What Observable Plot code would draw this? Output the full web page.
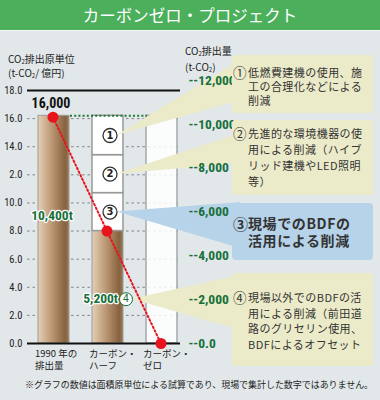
<!DOCTYPE html>
<html><head><meta charset="utf-8">
<script src="https://cdn.jsdelivr.net/npm/d3@7"></script>
<script src="https://cdn.jsdelivr.net/npm/@observablehq/plot@0.6"></script>
<style>
body{margin:0;background:#e2e8ea;font-family:"Noto Sans CJK JP",sans-serif;color:#333;}
#wrap{position:relative;width:380px;height:400px;overflow:hidden;background:#e2e8ea;}
#title{height:30px;border-bottom:1px solid #f2f6f6;background:#4caf5b;color:#fff;font-size:16.5px;text-align:center;line-height:31px;letter-spacing:0;}
.abs{position:absolute;white-space:nowrap;}
.axt{font-size:10px;line-height:10.5px;color:#222;}
.axt sub{font-size:6px;vertical-align:-1px;}
.box{position:absolute;left:232px;width:141px;box-sizing:border-box;border-radius:4px;padding-left:1px;white-space:nowrap;font-size:11px;letter-spacing:0.45px;color:#333;z-index:2;}
.beige{background:#ecebc9;}
.blue{background:#b7d3e9;}
.box .c{display:inline-block;width:15px;font-size:13.5px;letter-spacing:0;text-align:left;vertical-align:top;}
.box .ind{padding-left:15px;}
#note{left:25px;top:378px;font-size:9px;color:#222;letter-spacing:-0.05px;z-index:3;}
#chart{position:absolute;left:0;top:31px;}
</style></head>
<body>
<div id="wrap">
  <div id="title">カーボンゼロ・プロジェクト</div>
  <div id="chart"></div>
  <div class="abs axt" style="left:8px;top:54px;">CO<sub>2</sub>排出原単位<br>(t-CO<sub>2</sub>/ 億円)</div>
  <div class="abs axt" style="left:185px;top:45px;line-height:12.5px;">CO<sub>2</sub>排出量<br>(t-CO<sub>2</sub>)</div>
  <div class="box beige" style="top:55px;height:58px;padding-top:11px;line-height:13.8px;"><span class="c">①</span>低燃費建機の使用、施<br><span class="ind">工の合理化などによる</span><br><span class="ind">削減</span></div>
  <div class="box beige" style="top:120px;height:75px;padding-top:5px;line-height:16px;"><span class="c">②</span>先進的な環境機器の使<br><span class="ind">用による削減（ハイブ</span><br><span class="ind">リッド建機やLED照明</span><br><span class="ind">等）</span></div>
  <div class="box blue" style="top:203px;height:57px;padding-top:12px;line-height:17px;font-size:14px;font-weight:bold;letter-spacing:0.6px;"><span class="c" style="font-size:15px;">③</span>現場でのBDFの<br><span class="ind">活用による削減</span></div>
  <div class="box beige" style="top:273px;height:93px;padding-top:17px;line-height:15.7px;"><span class="c">④</span>現場以外でのBDFの活<br><span class="ind">用による削減（前田道</span><br><span class="ind">路のグリセリン使用、</span><br><span class="ind">BDFによるオフセット</span></div>
  <div id="note" class="abs">※グラフの数値は面積原単位による試算であり、現場で集計した数字ではありません。</div>
</div>
<script>
// ---- data ----
const categories = ["1990年の排出量", "カーボン・ハーフ", "カーボン・ゼロ"];
const categoryLines1 = ["1990 年の", "カーボン・", "カーボン・"];
const categoryLines2 = ["排出量", "ハーフ", "ゼロ"];
const brownValues = [16.2, 8.0];            // remaining intensity (1990, half)
const reductionSteps = ["3", "2", "1"];     // stacked above the half bar, bottom→top
const reductionValues = [2.7, 2.7, 2.8];
const zeroFrameValue = 16.2;
const trendValues = [16.1, 8.0, 0];
const leftTicks = [0, 2, 4, 6, 8, 10, 12, 14, 16, 18];
const leftTickLabels = ["0.0", "2.0", "4.0", "6.0", "8.0", "10.0", "2.0", "14.0", "16.0", "18.0"];
const rightTicks = [0, 2000, 4000, 6000, 8000, 10000, 12000];
const rightTickLabels = ["--0.0", "--2,000", "--4,000", "--6,000", "--8,000", "--10,000", "--12,000"];
const rightValueAt18 = 11544;
const emissionLabels = ["16,000", "10,400t", "5,200t"];
const emissionLabelY = [17.05, 9.1, 3.2];
const note4Y = 3.15;

// ---- derived tables ----
const brownBars = brownValues.map((v, i) => ({cat: categories[i], v}));
const tops = d3.cumsum([brownValues[1], ...reductionValues]);
const segments = reductionSteps.map((s, i) => ({cat: categories[1], step: s, y1: tops[i], y2: tops[i + 1]}));
const trend = trendValues.map((v, i) => ({cat: categories[i], v}));
const rightAxis = rightTicks.map((t, i) => ({y: t * 18 / rightValueAt18, label: rightTickLabels[i]}));
const catText = categories.map((c, i) => ({cat: c, l1: categoryLines1[i], l2: categoryLines2[i]}));
const NARROW = '"Liberation Sans Narrow","Roboto Condensed","DejaVu Sans Condensed",sans-serif';
const BEIGE = "#ecebc9", BLUE = "#b7d3e9";

function defsMark() {
  const defs = d3.create("svg:defs");
  const g = defs.append("linearGradient").attr("id", "brownGrad").attr("x1", "0").attr("x2", "1").attr("y1", "0").attr("y2", "0");
  [[0, "#e4d0b6"], [0.45, "#bb9673"], [0.88, "#86623f"], [1, "#9c7a58"]].forEach(([o, c]) =>
    g.append("stop").attr("offset", o).attr("stop-color", c));
  return defs.node();
}

function wedgeMark(index, scales) {
  const x = scales.x, y = scales.y, bw = x.bandwidth();
  const cx = x(categories[1]) + bw / 2;
  const tipsSeg = segments.map(s => [cx + 9, y((s.y1 + s.y2) / 2)]);
  const specs = [
    {tip: tipsSeg[2], base: [29, 69], color: BEIGE},
    {tip: tipsSeg[1], base: [102, 132], color: BEIGE},
    {tip: tipsSeg[0], base: [171, 217], color: BLUE},
    {tip: [cx + 24, y(note4Y)], base: [244, 299], color: BEIGE}
  ];
  const g = d3.create("svg:g");
  specs.forEach(s => {
    g.append("path")
      .attr("d", `M${s.tip[0]},${s.tip[1]}L240,${s.base[0]}L240,${s.base[1]}Z`)
      .attr("fill", s.color);
  });
  return g.node();
}

const plot = Plot.plot({
  width: 380,
  height: 369,
  marginTop: 59,
  marginBottom: 57,
  marginLeft: 27,
  marginRight: 200,
  style: {background: "transparent", fontFamily: '"Noto Sans CJK JP",sans-serif', color: "#222"},
  x: {domain: categories, paddingInner: 0.418, paddingOuter: 0.1, align: 0.82, axis: null},
  y: {domain: [0, 18], axis: null},
  marks: [
    defsMark,
    Plot.ruleY(leftTicks.filter(t => t > 0 && t < 18), {stroke: "#7d8486", strokeDasharray: "2.5,3", strokeWidth: 1}),
    Plot.barY(brownBars, {x: "cat", y: "v", fill: "url(#brownGrad)", stroke: "#9a9a9a", strokeWidth: 1}),
    Plot.barY(segments, {x: "cat", y1: "y1", y2: "y2", fill: "white", stroke: "#999", strokeWidth: 1.5}),
    Plot.barY([zeroFrameValue], {x: () => categories[2], y: d => d, fill: "white", fillOpacity: 0.85, stroke: "#a4a8aa", strokeWidth: 1.5}),
    Plot.ruleY([0, 18], {stroke: "#111", strokeWidth: 2}),
    Plot.ruleY([zeroFrameValue], {x1: () => categories[0], x2: () => categories[2], insetLeft: 32, insetRight: 30, stroke: "#1f7a3a", strokeWidth: 2, strokeDasharray: "2,2.2"}),
    wedgeMark,
    Plot.line(trend, {x: "cat", y: "v", dx: -1, stroke: "#e8141e", strokeWidth: 2, strokeDasharray: "1.6,2.4"}),
    Plot.dot(trend, {x: "cat", y: "v", dx: -1, r: 5.5, fill: "#e8141e"}),
    Plot.dot(segments, {x: "cat", y: d => (d.y1 + d.y2) / 2, dx: 2, r: 7, fill: "white", stroke: "#333", strokeWidth: 1.3}),
    Plot.text(segments, {x: "cat", y: d => (d.y1 + d.y2) / 2, dx: 2, text: "step", fontWeight: "bold", fontSize: 10, fill: "#222", fontFamily: "DejaVu Sans"}),
    Plot.text([emissionLabels[0]], {x: () => categories[0], y: () => emissionLabelY[0], dx: -3, text: d => d, fontFamily: NARROW, fontWeight: "bold", fontSize: 14, fill: "#111"}),
    Plot.text([emissionLabels[1]], {x: () => categories[0], y: () => emissionLabelY[1], dx: -2, text: d => d, fontFamily: NARROW, fontWeight: "bold", fontSize: 13.5, fill: "#17703a", stroke: "white", strokeWidth: 2.5}),
    Plot.text([emissionLabels[2]], {x: () => categories[1], y: () => emissionLabelY[2], dx: 10, textAnchor: "end", text: d => d, fontFamily: NARROW, fontWeight: "bold", fontSize: 13.5, fill: "#17703a", stroke: "white", strokeWidth: 2.5}),
    Plot.dot([note4Y], {x: () => categories[1], y: d => d, dx: 18, r: 6.5, fill: "white", stroke: "#17703a", strokeWidth: 1}),
    Plot.text([note4Y], {x: () => categories[1], y: d => d, dx: 18, text: () => "4", fontSize: 10, fill: "#17703a", fontFamily: "DejaVu Sans"}),
    Plot.text(rightAxis, {y: "y", text: "label", frameAnchor: "right", textAnchor: "start", dx: 8, fontFamily: NARROW, fontWeight: "bold", fontSize: 13.5, fill: "#17703a"}),
    Plot.axisY(leftTicks, {tickSize: 0, tickPadding: 5, tickFormat: d => leftTickLabels[leftTicks.indexOf(d)], fontFamily: NARROW, fontSize: 10.5, fill: "#222", label: null}),
    Plot.text(catText, {x: "cat", y: () => 0, dy: 10.5, dx: -19, textAnchor: "start", fontSize: 9.5, fill: "#222", text: "l1"}),
    Plot.text(catText, {x: "cat", y: () => 0, dy: 22.5, dx: -19, textAnchor: "start", fontSize: 9.5, fill: "#222", text: "l2"})
  ]
});
document.getElementById("chart").appendChild(plot);
</script>
</body></html>
